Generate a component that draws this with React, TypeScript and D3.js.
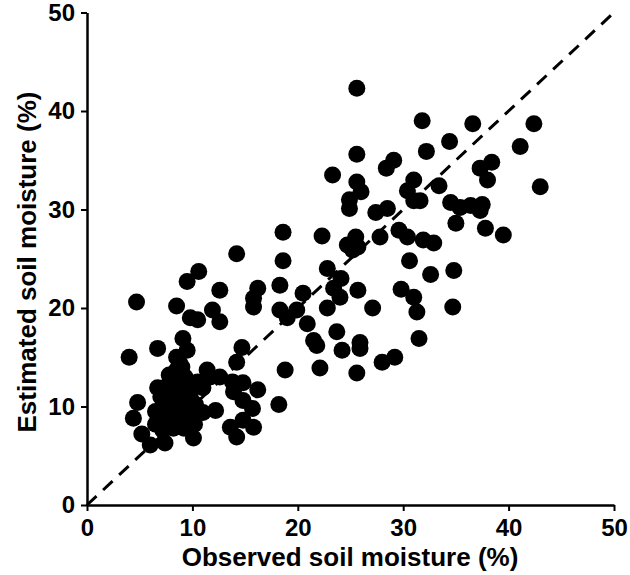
import React, { useEffect, useRef } from 'react';
import * as d3 from 'd3';

// observed soil moisture (%) for each sample
const observed = [
  25.6, 31.8, 36.6, 42.4, 41.1, 34.4, 32.2, 25.6, 29.1, 28.4,
  23.3, 38.4, 37.3, 38.0, 43.0, 25.6, 26.0, 24.9, 24.9, 27.4,
  28.5, 31.0, 30.4, 31.0, 31.6, 33.4, 34.5, 35.4, 36.4, 37.5,
  37.3, 35.0, 37.8, 39.5, 22.3, 24.7, 25.5, 25.2, 25.7, 27.8,
  29.6, 30.4, 31.9, 32.9, 18.6, 30.6, 34.8, 32.6, 22.8, 24.1,
  18.6, 14.2, 10.6, 9.5, 12.6, 16.2, 15.8, 15.8, 18.3, 4.7,
  8.5, 9.8, 10.5, 11.9, 12.6, 18.3, 19.0, 19.9, 20.5, 23.4,
  24.0, 25.7, 29.8, 31.0, 31.3, 34.7, 22.8, 27.1, 20.9, 23.7,
  21.5, 21.8, 24.2, 25.9, 25.9, 31.5, 28.0, 29.2, 22.1, 25.6,
  18.8, 18.2, 9.1, 14.7, 14.2, 11.4, 11.0, 12.6, 13.8, 14.8,
  16.2, 13.9, 14.8, 15.7, 11.0, 12.2, 14.8, 15.8, 13.6, 14.2,
  11.7, 4.0, 6.7, 9.5, 8.5, 8.8, 8.5, 8.4, 6.7, 4.8,
  4.4, 5.2, 6.0, 7.4, 10.1, 7.0, 7.5, 8.0, 8.8, 9.5,
  9.8, 7.2, 8.0, 8.8, 9.5, 10.3, 6.5, 7.5, 8.3, 9.0,
  9.8, 6.5, 7.2, 8.2, 9.2, 10.2, 9.3, 9.0, 7.8, 10.5,
];

// estimated soil moisture (%) for the same samples
const estimated = [
  42.3, 39.0, 38.7, 38.7, 36.4, 36.9, 35.9, 35.6, 35.0, 34.2,
  33.5, 34.8, 34.2, 33.0, 32.3, 32.8, 31.8, 31.0, 30.1, 29.7,
  30.1, 33.0, 31.9, 30.9, 30.9, 32.4, 30.7, 30.2, 30.4, 30.5,
  29.9, 28.6, 28.1, 27.4, 27.3, 26.4, 27.2, 25.9, 26.2, 27.2,
  27.9, 27.2, 26.9, 26.6, 27.7, 24.8, 23.8, 23.4, 24.0, 23.0,
  24.8, 25.5, 23.7, 22.7, 21.8, 22.0, 21.0, 20.1, 22.3, 20.6,
  20.2, 19.0, 18.8, 19.8, 18.6, 19.8, 19.0, 19.8, 21.5, 22.0,
  21.1, 21.8, 21.9, 21.1, 19.6, 20.1, 20.0, 20.0, 18.4, 17.6,
  16.7, 16.2, 15.7, 16.5, 15.9, 16.9, 14.5, 15.0, 13.9, 13.4,
  13.7, 10.2, 16.9, 16.0, 14.5, 13.7, 11.9, 13.0, 12.5, 12.4,
  11.7, 11.5, 10.6, 9.8, 9.4, 9.6, 8.6, 7.9, 7.9, 6.9,
  13.0, 15.0, 15.9, 15.7, 15.0, 14.4, 13.7, 13.0, 11.9, 10.4,
  8.8, 7.2, 6.1, 6.3, 6.8, 11.0, 12.0, 11.5, 12.0, 12.0,
  11.0, 10.0, 10.0, 10.5, 10.0, 10.2, 9.5, 9.0, 8.8, 9.2,
  8.8, 8.2, 7.6, 7.8, 7.8, 8.2, 13.0, 14.0, 13.2, 12.5,
];

const ticks = [0, 10, 20, 30, 40, 50];

const ScatterChart = () => {
  const svgRef = useRef<SVGSVGElement>(null);

  useEffect(() => {
    const svg = d3.select(svgRef.current);
    svg.selectAll('*').remove();

    const font = "'Liberation Sans', Arial, sans-serif";

    // plot area in pixels
    const left = 87;
    const right = 614;
    const top = 12.5;
    const bottom = 505;

    const x = d3.scaleLinear().domain([0, 50]).range([left, right]);
    const y = d3.scaleLinear().domain([0, 50]).range([bottom, top]);

    const points = observed.map((o, i) => ({ o, e: estimated[i] }));

    // 1:1 line
    svg
      .append('line')
      .attr('x1', x(0))
      .attr('y1', y(0))
      .attr('x2', x(50))
      .attr('y2', y(50))
      .attr('stroke', '#000')
      .attr('stroke-width', 3)
      .attr('stroke-dasharray', '13,9');

    // points
    svg
      .append('g')
      .selectAll('circle')
      .data(points)
      .enter()
      .append('circle')
      .attr('cx', (d) => x(d.o))
      .attr('cy', (d) => y(d.e))
      .attr('r', 8.5)
      .attr('fill', '#000');

    // x axis
    const xAxis = svg
      .append('g')
      .attr('transform', `translate(0, ${bottom})`)
      .call(d3.axisBottom(x).tickValues(ticks).tickSize(6).tickPadding(8).tickSizeOuter(0));
    xAxis.select('.domain').attr('stroke-width', 2.5);
    xAxis.selectAll('.tick line').attr('stroke-width', 2);
    xAxis
      .selectAll('text')
      .attr('font-family', font)
      .attr('font-weight', 'bold')
      .attr('font-size', 24)
      .attr('fill', '#000');

    // y axis
    const yAxis = svg
      .append('g')
      .attr('transform', `translate(${left}, 0)`)
      .call(d3.axisLeft(y).tickValues(ticks).tickSize(6).tickPadding(6).tickSizeOuter(0));
    yAxis.select('.domain').attr('stroke-width', 2.5);
    yAxis.selectAll('.tick line').attr('stroke-width', 2);
    yAxis
      .selectAll('text')
      .attr('font-family', font)
      .attr('font-weight', 'bold')
      .attr('font-size', 24)
      .attr('fill', '#000');

    // axis titles
    svg
      .append('text')
      .attr('x', 350)
      .attr('y', 566)
      .attr('text-anchor', 'middle')
      .attr('font-family', font)
      .attr('font-weight', 'bold')
      .attr('font-size', 26)
      .text('Observed soil moisture (%)');

    svg
      .append('text')
      .attr('transform', `translate(36, 262) rotate(-90)`)
      .attr('text-anchor', 'middle')
      .attr('font-family', font)
      .attr('font-weight', 'bold')
      .attr('font-size', 26)
      .text('Estimated soil moisture (%)');
  }, []);

  return <svg ref={svgRef} width={630} height={575} style={{ display: 'block', background: '#fff' }} />;
};

export default function App() {
  return (
    <>
      <style>{'body { margin: 0; }'}</style>
      <ScatterChart />
    </>
  );
}
